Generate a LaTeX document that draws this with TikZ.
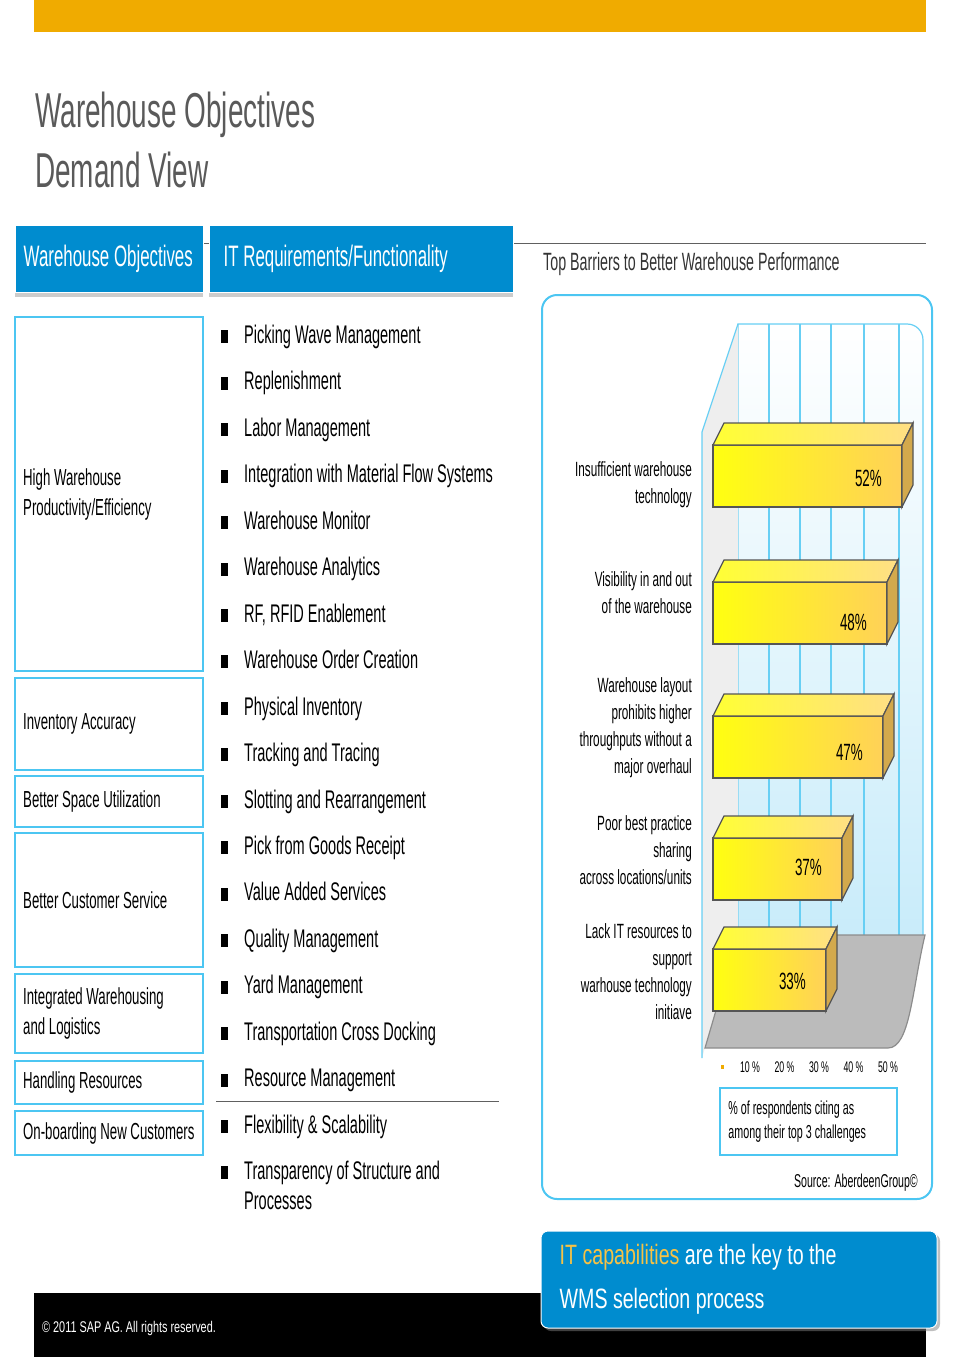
\documentclass[tikz,border=0pt]{standalone}
\usepackage{fontspec}
\setmainfont{Liberation Sans}[FakeStretch=0.57]
\newfontfamily\widesans{Liberation Sans}[FakeStretch=0.7]
\usetikzlibrary{shadows}
\definecolor{sapgold}{HTML}{F0AB00}
\definecolor{sapblue}{HTML}{008CCF}
\definecolor{framecyan}{HTML}{4CC6F2}
\definecolor{titlegray}{HTML}{5A5A5A}
\definecolor{rulegray}{HTML}{606060}
\definecolor{wallblue}{HTML}{C9ECFA}
\definecolor{sidegray}{HTML}{EEEEEE}
\definecolor{floorgray}{HTML}{BBBBBB}
\definecolor{barlight}{HTML}{FFFF10}
\definecolor{bardark}{HTML}{FFD158}
\definecolor{bartop}{HTML}{FFDF85}
\definecolor{barside}{HTML}{D3A94C}
\definecolor{baredge}{HTML}{555555}
\definecolor{capyellow}{HTML}{F6C245}
\newcommand\fs[2]{\fontsize{#1}{#2}\selectfont}

\begin{document}
\begin{tikzpicture}[x=1pt,y=-1pt,
        headbox/.style={fill=sapblue,draw=white,line width=1pt,minimum height=67pt,inner sep=0pt,
            drop shadow={shadow xshift=0pt,shadow yshift=-5pt,opacity=.4}},
        headtext/.style={anchor=west,inner sep=0pt,text=white,font=\fs{29.6}{34}},
        objbox/.style={draw=framecyan,line width=2pt,minimum width=188pt,inner sep=0pt},
        objtext/.style={anchor=west,inner sep=0pt,align=left,font=\fs{23.2}{30}},
        bulletmark/.style={fill=black,minimum width=7pt,minimum height=13pt,inner sep=0pt,anchor=south west},
        reqtext/.style={anchor=base west,inner sep=0pt,align=left,font=\fs{25.5}{30}},
        gridline/.style={draw=framecyan!85,line width=1.2pt},
        catlabel/.style={anchor=east,inner sep=0pt,align=right,font=\fs{20.6}{27}},
        pctlabel/.style={anchor=east,inner sep=0pt,font=\fs{23.5}{26}},
        ticklabel/.style={inner sep=0pt,font=\fs{15.4}{18}},
        callout/.style={fill=sapblue,draw=white,line width=1pt,rounded corners=7pt,minimum width=396pt,
            minimum height=97pt,inner sep=0pt,drop shadow={shadow xshift=3pt,shadow yshift=-3pt,opacity=.5}}]
    \useasboundingbox (0,0) rectangle (960,1357);
    \fill[sapgold] (34,0) rectangle (926,31.5);
    \node[anchor=north west,inner sep=0pt,align=left,text=titlegray,font=\fs{49}{60}] (title) at (35,92)
        {Warehouse Objectives\\Demand View};

    \draw[rulegray,line width=1.5pt] (15,243.5) -- (926,243.5);
    \node[headbox,minimum width=188pt] (headobj) at (109,258.5) {};
    \node[headtext] (headobjtxt) at ([xshift=9pt]headobj.west) {Warehouse Objectives};
    \node[headbox,minimum width=304pt] (headreq) at (361,258.5) {};
    \node[headtext] (headreqtxt) at ([xshift=15pt]headreq.west) {IT Requirements/Functionality};

    \foreach \c/\h/\txt [count=\i] in {494/354/{High Warehouse\\Productivity/Efficiency},724/92/{Inventory Accuracy},
            801.5/51/{Better Space Utilization},900/134/{Better Customer Service},
            1013.5/79/{Integrated Warehousing\\and Logistics},1082.5/43/{Handling Resources},
            1133/44/{On-boarding New Customers}}{
        \node[objbox,minimum height=\h pt] (obj\i) at (109,\c) {};
        \node[objtext] (objtxt\i) at ([xshift=9pt]obj\i.west) {\txt};
    }

    \foreach \txt [count=\i] in {Picking Wave Management,Replenishment,Labor Management,
            Integration with Material Flow Systems,Warehouse Monitor,Warehouse Analytics,
            {RF, RFID Enablement},Warehouse Order Creation,Physical Inventory,Tracking and Tracing,
            Slotting and Rearrangement,Pick from Goods Receipt,Value Added Services,Quality Management,
            Yard Management,Transportation Cross Docking,Resource Management,Flexibility \& Scalability}{
        \node[bulletmark] (dot\i) at (221,{343.5+46.45*(\i-1)}) {};
        \node[reqtext] (req\i) at (244,{343.5+46.45*(\i-1)}) {\txt};
    }
    \node[bulletmark] (dot19) at (221,1179.6) {};
    \node[reqtext] (req19) at (244,1209.6) {Transparency of Structure and\\Processes};
    \draw[rulegray,line width=1.3pt] (216,1101.7) -- (499,1101.7);

    \node[anchor=base west,inner sep=0pt,text=black!80,font=\fs{25}{30}] (charttitle) at (543,270)
        {Top Barriers to Better Warehouse Performance};
    \draw[framecyan,line width=2pt,rounded corners=15pt] (542,295) rectangle (932,1199);

    \shade[top color=white,bottom color=wallblue] (738,935) -- (738,324) -- (907,324)
        .. controls (916,324) and (923,331) .. (923,340) -- (923,935) -- cycle;
    \foreach \gx in {769,800,831,864,899}
        \draw[gridline] (\gx,324) -- (\gx,935);
    \draw[gridline] (738,935) -- (738,324) -- (907,324) .. controls (916,324) and (923,331) .. (923,340) -- (923,935);
    \fill[sidegray] (738,324) -- (702,432) -- (702,1058) -- (738,935) -- cycle;
    \draw[gridline] (738,324) -- (702,432) -- (702,1058);
    \filldraw[fill=floorgray,draw=black!45,line width=1.2pt] (738,935) -- (925,935)
        .. controls (912,990) and (910,1048) .. (888,1048) -- (705,1048) -- cycle;

    \foreach \xr/\yt/\val/\ly in {902/445/52/478,887/582/48/622,883/716/47/752,842/838/37/867,826/949/33/981}{
        \path[draw=baredge,line width=1.3pt,left color=barlight,right color=bardark] (713,\yt) rectangle (\xr,{\yt+62});
        \path[draw=baredge,line width=1.3pt,left color=barlight!85!white,right color=bartop]
            (713,\yt) -- (724,{\yt-22}) -- ({\xr+11},{\yt-22}) -- (\xr,\yt) -- cycle;
        \filldraw[fill=barside,draw=baredge,line width=1.3pt]
            (\xr,\yt) -- ({\xr+11},{\yt-22}) -- ({\xr+11},{\yt+40}) -- (\xr,{\yt+62}) -- cycle;
        \node[pctlabel] (pct\val) at ({\xr-20},\ly) {\val\%};
    }

    \node[catlabel] (cat1) at (692,485) {Insufficient warehouse\\technology};
    \node[catlabel] (cat2) at (692,593) {Visibility in and out\\of the warehouse};
    \node[catlabel] (cat3) at (692,728) {Warehouse layout\\prohibits higher\\throughputs without a\\major overhaul};
    \node[catlabel] (cat4) at (692,850) {Poor best practice\\sharing\\across locations/units};
    \node[catlabel] (cat5) at (692,972) {Lack IT resources to\\support\\warhouse technology\\initiave};

    \node[fill=sapgold,minimum width=3pt,minimum height=4pt,inner sep=0pt] (tick0) at (722,1067) {};
    \foreach \k in {1,...,5}
        \node[ticklabel] (tick\k) at ({750+34.5*(\k-1)},1067) {\k0 \%};
    \node[draw=framecyan,line width=1.5pt,minimum width=177pt,minimum height=67pt,inner sep=0pt] (legend) at (808.5,1121.5) {};
    \node[anchor=west,inner sep=0pt,align=left,font=\fs{18.8}{24}] (legendtxt) at ([xshift=9pt]legend.west)
        {\% of respondents citing as\\among their top 3 challenges};
    \node[anchor=base east,inner sep=0pt,font=\fs{18.6}{22}] (source) at (918,1187) {Source: AberdeenGroup©};

    \fill[black] (34,1293) rectangle (926,1357);
    \node[anchor=base west,inner sep=0pt,text=white,font=\widesans\fs{15.5}{18}] (copyright) at (42,1332)
        {© 2011 SAP AG. All rights reserved.};
    \node[callout] (keynote) at (739,1279.5) {};
    \node[anchor=west,inner sep=0pt,align=left,text=white,font=\widesans\fs{28}{44}] (keynotetxt) at ([xshift=19pt]keynote.west)
        {\textcolor{capyellow}{IT capabilities} are the key to the\\WMS selection process};
\end{tikzpicture}
\end{document}
